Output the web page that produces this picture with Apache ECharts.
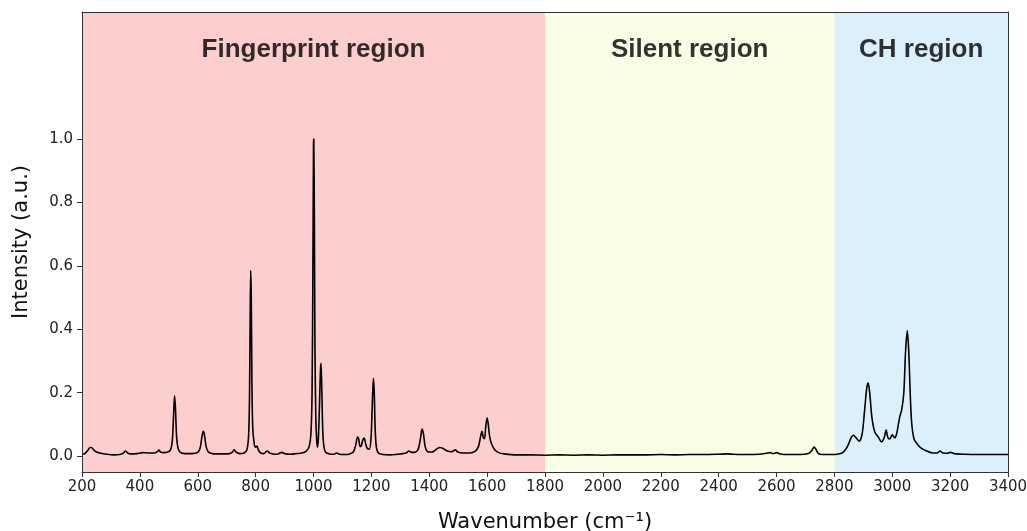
<!DOCTYPE html>
<html>
<head>
<meta charset="utf-8">
<title>Raman spectrum</title>
<script src="https://cdn.jsdelivr.net/npm/echarts@6/dist/echarts.min.js"></script>
<style>
  html, body { margin: 0; padding: 0; background: #ffffff; }
  #chart { width: 1027px; height: 531px; }
</style>
</head>
<body>
<div id="chart"></div>
<script>
// Spectrum samples: wavenumber (cm-1) and normalised intensity
const wavenumbers = [
  200, 210, 220, 228, 233, 240, 250, 265, 285, 310, 330, 342, 350, 358, 368, 390,
  410, 430, 450, 460, 466, 472, 485, 500, 508, 513, 517, 520, 523, 527, 532, 540,
  555, 580, 600, 608, 614, 619, 623, 629, 636, 650, 680, 705, 718, 726, 732, 745,
  760, 770, 776, 779, 781, 783, 785, 787, 790, 795, 800, 805, 810, 818, 828, 840,
  848, 860, 875, 890, 900, 920, 940, 960, 975, 985, 991, 995, 998, 1000, 1001, 1003,
  1005, 1008, 1011, 1014, 1017, 1021, 1024, 1026, 1029, 1032, 1036, 1042, 1055, 1070, 1080, 1090,
  1110, 1125, 1138, 1146, 1152, 1156, 1161, 1165, 1170, 1175, 1180, 1186, 1193, 1199, 1203, 1207,
  1210, 1213, 1217, 1224, 1240, 1265, 1290, 1310, 1320, 1330, 1338, 1350, 1362, 1370, 1375, 1380,
  1386, 1395, 1410, 1425, 1437, 1448, 1462, 1478, 1490, 1497, 1515, 1540, 1558, 1570, 1577, 1582,
  1587, 1591, 1595, 1600, 1604, 1609, 1615, 1625, 1640, 1660, 1700, 1750, 1800, 1850, 1900, 1950,
  2000, 2050, 2100, 2150, 2200, 2250, 2300, 2350, 2400, 2430, 2450, 2500, 2540, 2565, 2578, 2588,
  2600, 2612, 2640, 2680, 2710, 2722, 2730, 2737, 2745, 2760, 2790, 2815, 2830, 2845, 2858, 2866,
  2875, 2886, 2896, 2905, 2912, 2917, 2922, 2930, 2940, 2952, 2963, 2972, 2979, 2985, 2991, 3000,
  3008, 3015, 3025, 3033, 3040, 3046, 3052, 3057, 3062, 3067, 3075, 3085, 3100, 3120, 3140, 3155,
  3165, 3175, 3190, 3202, 3215, 3250, 3300, 3350, 3400
];
const intensity = [
  0.006, 0.008, 0.018, 0.027, 0.027, 0.020, 0.013, 0.009, 0.006, 0.004, 0.005, 0.009, 0.016, 0.010, 0.007, 0.008,
  0.011, 0.010, 0.010, 0.014, 0.019, 0.012, 0.011, 0.014, 0.025, 0.060, 0.140, 0.190, 0.150, 0.060, 0.025, 0.012,
  0.008, 0.008, 0.012, 0.025, 0.058, 0.078, 0.068, 0.030, 0.014, 0.008, 0.007, 0.007, 0.011, 0.020, 0.013, 0.008,
  0.010, 0.020, 0.070, 0.200, 0.420, 0.585, 0.500, 0.250, 0.090, 0.040, 0.028, 0.032, 0.018, 0.010, 0.008, 0.016,
  0.010, 0.007, 0.006, 0.012, 0.008, 0.006, 0.008, 0.010, 0.016, 0.030, 0.070, 0.200, 0.600, 0.980, 1.000, 0.750,
  0.350, 0.120, 0.050, 0.028, 0.060, 0.170, 0.270, 0.293, 0.200, 0.080, 0.030, 0.012, 0.007, 0.006, 0.010, 0.006,
  0.005, 0.007, 0.014, 0.035, 0.060, 0.055, 0.030, 0.032, 0.050, 0.057, 0.040, 0.024, 0.022, 0.060, 0.160, 0.245,
  0.200, 0.090, 0.030, 0.010, 0.005, 0.004, 0.006, 0.008, 0.010, 0.016, 0.012, 0.012, 0.022, 0.058, 0.085, 0.070,
  0.030, 0.014, 0.013, 0.022, 0.027, 0.024, 0.016, 0.014, 0.020, 0.014, 0.010, 0.010, 0.015, 0.030, 0.060, 0.078,
  0.058, 0.055, 0.090, 0.121, 0.100, 0.060, 0.040, 0.022, 0.011, 0.007, 0.004, 0.004, 0.003, 0.004, 0.003, 0.004,
  0.003, 0.004, 0.004, 0.004, 0.005, 0.004, 0.005, 0.005, 0.006, 0.007, 0.006, 0.005, 0.006, 0.009, 0.011, 0.008,
  0.011, 0.007, 0.005, 0.005, 0.008, 0.018, 0.029, 0.020, 0.008, 0.005, 0.005, 0.007, 0.012, 0.030, 0.058, 0.066,
  0.058, 0.047, 0.070, 0.150, 0.215, 0.230, 0.200, 0.120, 0.075, 0.060, 0.045, 0.058, 0.082, 0.058, 0.054, 0.067,
  0.058, 0.070, 0.120, 0.148, 0.200, 0.330, 0.395, 0.330, 0.200, 0.106, 0.055, 0.040, 0.025, 0.016, 0.010, 0.010,
  0.016, 0.010, 0.009, 0.012, 0.008, 0.006, 0.005, 0.005, 0.005
];

// Spectral regions shaded behind the trace
const regionNames = ['Fingerprint region', 'Silent region', 'CH region'];
const regionStarts = [200, 1800, 2800];
const regionEnds = [1800, 2800, 3400];
const regionColors = ['#fdcece', '#f8fde6', '#dcf0fc'];
const regionLabelY = 1.28;

// Axis ticks
const xTicks = [200, 400, 600, 800, 1000, 1200, 1400, 1600, 1800, 2000, 2200, 2400, 2600, 2800, 3000, 3200, 3400];
const yTicks = [0.0, 0.2, 0.4, 0.6, 0.8, 1.0];

const X_MIN = 200, X_MAX = 3400, Y_MIN = -0.05, Y_MAX = 1.4;

const spectrum = wavenumbers.map((w, i) => [w, intensity[i]]);
const regionAreas = regionNames.map((n, i) => [
  { xAxis: regionStarts[i], yAxis: Y_MIN, itemStyle: { color: regionColors[i] } },
  { xAxis: regionEnds[i], yAxis: Y_MAX }
]);
const regionLabels = regionNames.map((n, i) => ({
  value: [(regionStarts[i] + regionEnds[i]) / 2, regionLabelY],
  name: n
}));

const axisColor = '#333333';
const tickFont = { fontFamily: 'DejaVu Sans', fontSize: 15, color: '#222222' };

const chart = echarts.init(document.getElementById('chart'), null, { renderer: 'canvas' });
chart.setOption({
  animation: false,
  backgroundColor: '#ffffff',
  grid: { left: 82, right: 19, top: 12, bottom: 59, containLabel: false, outerBoundsMode: 'none' },
  xAxis: [{
    type: 'value', min: X_MIN, max: X_MAX, interval: 200, z: 10,
    name: 'Wavenumber (cm⁻¹)', nameLocation: 'middle', nameGap: 40,
    nameTextStyle: { fontFamily: 'DejaVu Sans', fontSize: 21, color: '#111111' },
    axisLine: { show: true, onZero: false, lineStyle: { color: axisColor, width: 1 } },
    axisTick: { show: true, inside: false, length: 5, lineStyle: { color: axisColor } },
    axisLabel: Object.assign({ margin: 8, customValues: xTicks, formatter: v => String(v) }, tickFont),
    splitLine: { show: false }
  }, {
    type: 'value', min: X_MIN, max: X_MAX, position: 'top', z: 10,
    axisLine: { show: true, onZero: false, lineStyle: { color: axisColor, width: 1 } },
    axisTick: { show: false }, axisLabel: { show: false }, splitLine: { show: false }
  }],
  yAxis: [{
    type: 'value', min: Y_MIN, max: Y_MAX, z: 10,
    name: 'Intensity (a.u.)', nameLocation: 'middle', nameGap: 50,
    nameTextStyle: { fontFamily: 'DejaVu Sans', fontSize: 21, color: '#111111' },
    axisLine: { show: true, onZero: false, lineStyle: { color: axisColor, width: 1 } },
    axisTick: { show: true, inside: false, length: 5, customValues: yTicks, lineStyle: { color: axisColor } },
    axisLabel: Object.assign({ margin: 9, customValues: yTicks, formatter: v => v.toFixed(1) }, tickFont),
    splitLine: { show: false }
  }, {
    type: 'value', min: Y_MIN, max: Y_MAX, position: 'right', z: 10,
    axisLine: { show: true, onZero: false, lineStyle: { color: axisColor, width: 1 } },
    axisTick: { show: false }, axisLabel: { show: false }, splitLine: { show: false }
  }],
  series: [{
    type: 'line',
    name: 'regions',
    data: [],
    silent: true,
    z: 1,
    markArea: { silent: true, itemStyle: { opacity: 1 }, data: regionAreas }
  }, {
    type: 'line',
    name: 'spectrum',
    data: spectrum,
    showSymbol: false,
    smooth: 0.3,
    lineStyle: { color: '#000000', width: 1.6 },
    z: 3
  }, {
    type: 'scatter',
    name: 'labels',
    data: regionLabels,
    symbolSize: 0,
    silent: true,
    z: 4,
    label: {
      show: true, position: 'inside',
      formatter: p => p.name,
      fontFamily: 'Liberation Sans', fontWeight: 'bold', fontSize: 26,
      color: '#000000', textBorderWidth: 0
    }
  }]
});
</script>
</body>
</html>
